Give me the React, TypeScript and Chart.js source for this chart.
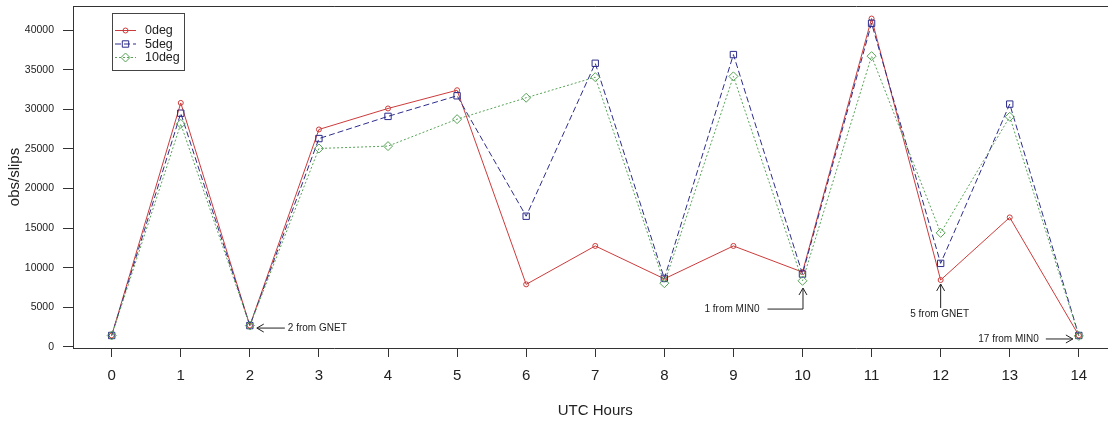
import React, { useEffect, useRef } from 'react';
import { Chart, registerables } from 'chart.js';

Chart.register(...registerables);

// ---- data ----
const hours = [0, 1, 2, 3, 4, 5, 6, 7, 8, 9, 10, 11, 12, 13, 14];
const yTicks = [0, 5000, 10000, 15000, 20000, 25000, 30000, 35000, 40000];
const seriesLabels = ['0deg', '5deg', '10deg'];
const deg0 = [1450, 30800, 2700, 27450, 30100, 32400, 7900, 12750, 8600, 12750, 9450, 41450, 8450, 16350, 1450];
const deg5 = [1450, 29500, 2700, 26300, 29100, 31700, 16500, 35800, 8650, 36900, 9200, 40850, 10550, 30650, 1450];
const deg10 = [1450, 28150, 2700, 25050, 25350, 28750, 31450, 34050, 8050, 34150, 8350, 36700, 14400, 29050, 1400];
const noteLabels = ['2 from GNET', '1 from MIN0', '5 from GNET', '17 from MIN0'];
const noteHours = [2, 10, 12, 14];
const noteValues = [2700, 9200, 8450, 1450];
const xTitle = 'UTC Hours';
const yTitle = 'obs/slips';

// ---- styles ----
const RED = '#cc3b3b';
const BLUE = '#2c2c8c';
const GREEN = '#56a356';
const FONT = '"Liberation Sans", Arial, sans-serif';
const INK = '#222';

function drawArrow(ctx: CanvasRenderingContext2D, x1: number, y1: number, x2: number, y2: number) {
  const a = Math.atan2(y2 - y1, x2 - x1);
  const L = 8;
  const th = Math.PI / 6;
  ctx.beginPath();
  ctx.moveTo(x1, y1);
  ctx.lineTo(x2, y2);
  ctx.moveTo(x2 - L * Math.cos(a - th), y2 - L * Math.sin(a - th));
  ctx.lineTo(x2, y2);
  ctx.lineTo(x2 - L * Math.cos(a + th), y2 - L * Math.sin(a + th));
  ctx.stroke();
}

function drawMarker(ctx: CanvasRenderingContext2D, kind: string, x: number, y: number, color: string) {
  ctx.save();
  ctx.strokeStyle = color;
  ctx.lineWidth = 1;
  ctx.setLineDash([]);
  ctx.beginPath();
  if (kind === 'circle') {
    ctx.arc(x, y, 2.5, 0, Math.PI * 2);
  } else if (kind === 'rect') {
    ctx.rect(x - 3.2, y - 3.2, 6.4, 6.4);
  } else {
    ctx.moveTo(x - 4.5, y);
    ctx.lineTo(x, y - 4.5);
    ctx.lineTo(x + 4.5, y);
    ctx.lineTo(x, y + 4.5);
    ctx.closePath();
  }
  ctx.stroke();
  ctx.restore();
}

const decorPlugin = {
  id: 'decor',
  afterDraw(chart: any) {
    const ctx: CanvasRenderingContext2D = chart.ctx;
    const ca = chart.chartArea;
    const xs = chart.scales.x;
    const ys = chart.scales.y;
    ctx.save();
    // frame
    ctx.strokeStyle = '#333';
    ctx.lineWidth = 1;
    ctx.beginPath();
    ctx.moveTo(ca.left, Math.round(ca.top) + 0.5);
    ctx.lineTo(ca.right, Math.round(ca.top) + 0.5);
    ctx.moveTo(Math.round(ca.right) - 0.5, ca.top);
    ctx.lineTo(Math.round(ca.right) - 0.5, ca.bottom);
    ctx.stroke();

    // axis titles
    ctx.fillStyle = INK;
    ctx.font = `15px ${FONT}`;
    ctx.textAlign = 'center';
    ctx.textBaseline = 'middle';
    ctx.fillText(xTitle, (ca.left + ca.right) / 2, 411);
    ctx.save();
    ctx.translate(15, (ca.top + ca.bottom) / 2);
    ctx.rotate(-Math.PI / 2);
    ctx.fillText(yTitle, 0, 0);
    ctx.restore();

    // legend
    const lx = 112, ly = 13, lw = 72, lh = 57;
    ctx.fillStyle = '#fff';
    ctx.fillRect(lx, ly, lw, lh);
    ctx.strokeStyle = '#444';
    ctx.strokeRect(lx + 0.5, ly + 0.5, lw, lh);
    const colors = [RED, BLUE, GREEN];
    const dashes = [[], [6, 3], [2, 2]];
    const kinds = ['circle', 'rect', 'rectRot'];
    const rows = [30, 43.5, 57];
    ctx.font = `12.5px ${FONT}`;
    ctx.textAlign = 'left';
    ctx.textBaseline = 'middle';
    seriesLabels.forEach((lab, i) => {
      ctx.strokeStyle = colors[i];
      ctx.setLineDash(dashes[i]);
      ctx.beginPath();
      ctx.moveTo(115, rows[i] + 0.5);
      ctx.lineTo(136, rows[i] + 0.5);
      ctx.stroke();
      ctx.setLineDash([]);
      drawMarker(ctx, kinds[i], 125.5, rows[i] + 0.5, colors[i]);
      ctx.fillStyle = INK;
      ctx.fillText(lab, 145, rows[i] + 1);
    });

    // annotations
    ctx.strokeStyle = '#222';
    ctx.fillStyle = INK;
    ctx.lineWidth = 1;
    ctx.font = `10px ${FONT}`;
    ctx.textBaseline = 'middle';
    noteLabels.forEach((lab, i) => {
      const px = xs.getPixelForValue(noteHours[i]);
      const py = ys.getPixelForValue(noteValues[i]);
      if (i === 0) {
        drawArrow(ctx, px + 35, py + 2.5, px + 7, py + 2.5);
        ctx.textAlign = 'left';
        ctx.fillText(lab, px + 38, py + 3);
      } else if (i === 1) {
        ctx.beginPath();
        ctx.moveTo(px - 35, py + 35);
        ctx.lineTo(px + 0.5, py + 35);
        ctx.stroke();
        drawArrow(ctx, px + 0.5, py + 35, px + 0.5, py + 14);
        ctx.textAlign = 'right';
        ctx.fillText(lab, px - 43, py + 35);
      } else if (i === 2) {
        drawArrow(ctx, px, py + 28, px, py + 4);
        ctx.textAlign = 'center';
        ctx.fillText(lab, px - 1, py + 34);
      } else {
        drawArrow(ctx, px - 33, py + 3.5, px - 6, py + 3.5);
        ctx.textAlign = 'right';
        ctx.fillText(lab, px - 40, py + 4);
      }
    });
    ctx.restore();
  },
};

function toPoints(vals: number[]) {
  return hours.map((h, i) => ({ x: h, y: vals[i] }));
}

export default function App() {
  const ref = useRef<HTMLCanvasElement | null>(null);
  useEffect(() => {
    if (!ref.current) return;
    const mk = (label: string, vals: number[], color: string, dash: number[], style: string, r: number) => ({
      label,
      data: toPoints(vals),
      borderColor: color,
      borderWidth: 1,
      borderDash: dash,
      pointStyle: style,
      pointRadius: r,
      pointBorderColor: color,
      pointBackgroundColor: 'rgba(0,0,0,0)',
      pointBorderWidth: 1,
      tension: 0,
      fill: false,
    });
    const chart = new Chart(ref.current, {
      type: 'line',
      data: {
        datasets: [
          mk(seriesLabels[2], deg10, GREEN, [2, 2], 'rectRot', 4.5),
          mk(seriesLabels[1], deg5, BLUE, [6, 3], 'rect', 4.5),
          mk(seriesLabels[0], deg0, RED, [], 'circle', 2.5),
        ],
      },
      options: {
        animation: false,
        responsive: false,
        events: [],
        layout: { padding: { top: 6, left: 0, right: 0, bottom: 0 } },
        plugins: { legend: { display: false }, tooltip: { enabled: false }, title: { display: false } },
        scales: {
          x: {
            type: 'linear',
            min: -0.56,
            max: 14.56,
            afterFit: (s: any) => { s.height = 75; s.paddingLeft = 0; s.paddingRight = 0; },
            afterBuildTicks: (s: any) => { s.ticks = hours.map((v) => ({ value: v })); },
            grid: { drawOnChartArea: false, drawTicks: true, tickLength: 9, color: '#333' },
            border: { display: true, color: '#333', width: 1 },
            ticks: {
              font: { family: FONT, size: 15 },
              color: INK,
              padding: 10,
              maxRotation: 0,
              autoSkip: false,
              callback: (v: any) => String(v),
            },
          },
          y: {
            type: 'linear',
            min: -130,
            max: 43030,
            afterFit: (s: any) => { s.width = 73; s.paddingTop = 0; s.paddingBottom = 0; },
            afterBuildTicks: (s: any) => { s.ticks = yTicks.map((v) => ({ value: v })); },
            grid: { drawOnChartArea: false, drawTicks: true, tickLength: 10, color: '#333' },
            border: { display: true, color: '#333', width: 1 },
            ticks: {
              font: { family: FONT, size: 10.5 },
              color: INK,
              padding: 9,
              autoSkip: false,
              callback: (v: any) => String(v),
            },
          },
        },
      },
      plugins: [decorPlugin],
    } as any);
    return () => chart.destroy();
  }, []);

  return (
    <div style={{ position: 'fixed', left: 0, top: 0, width: 1108, height: 423, overflow: 'hidden', background: '#fff' }}>
      <canvas ref={ref} width={1123} height={423} style={{ display: 'block', width: 1123, height: 423 }} />
    </div>
  );
}
